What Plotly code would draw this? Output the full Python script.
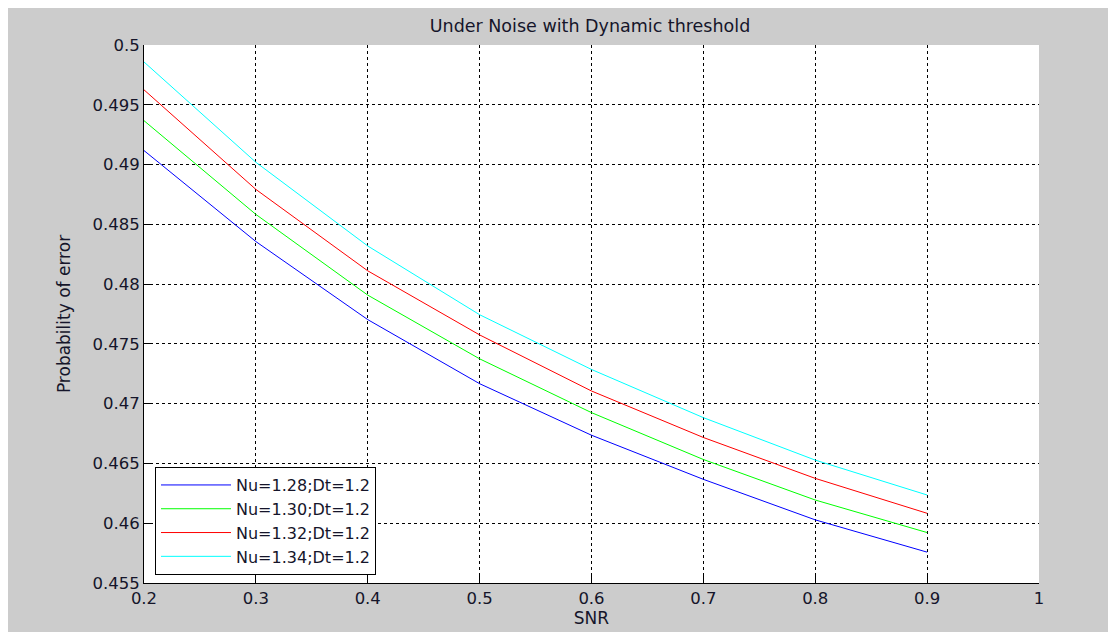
import plotly.graph_objects as go

snr = [0.2, 0.3, 0.4, 0.5, 0.6, 0.7, 0.8, 0.9]
pe_128 = [0.49117, 0.48356, 0.47703, 0.47167, 0.46736, 0.46367, 0.46028, 0.45758]
pe_130 = [0.49367, 0.48583, 0.47908, 0.47375, 0.46925, 0.46533, 0.46194, 0.45922]
pe_132 = [0.49625, 0.48792, 0.48111, 0.47575, 0.47106, 0.46717, 0.46375, 0.46083]
pe_134 = [0.49858, 0.49019, 0.48319, 0.47744, 0.47286, 0.46883, 0.46528, 0.46236]
names = ["Nu=1.28;Dt=1.2", "Nu=1.30;Dt=1.2", "Nu=1.32;Dt=1.2", "Nu=1.34;Dt=1.2"]
colors = ["#0000ff", "#00ff00", "#ff0000", "#00ffff"]
x_ticks = [0.2, 0.3, 0.4, 0.5, 0.6, 0.7, 0.8, 0.9, 1.0]
x_ticklabels = ["0.2", "0.3", "0.4", "0.5", "0.6", "0.7", "0.8", "0.9", "1"]
y_ticks = [0.455, 0.46, 0.465, 0.47, 0.475, 0.48, 0.485, 0.49, 0.495, 0.5]
y_ticklabels = ["0.455", "0.46", "0.465", "0.47", "0.475", "0.48", "0.485", "0.49", "0.495", "0.5"]

fig = go.Figure()
for ys, nm, c in zip([pe_128, pe_130, pe_132, pe_134], names, colors):
    fig.add_trace(go.Scatter(x=snr, y=ys, mode="lines", name=nm,
                             line=dict(color=c, width=1)))

font = "DejaVu Sans, Liberation Sans, Arial, sans-serif"
txt = "#15152a"

axis_common = dict(
    showline=True, linecolor="black", linewidth=1, mirror=False,
    ticks="inside", ticklen=7, tickcolor="black",
    showgrid=True, gridcolor="black", gridwidth=1, griddash="3px,3px",
    zeroline=False, tickfont=dict(family=font, size=16.5, color=txt),
)

fig.update_layout(
    width=1108, height=624,
    paper_bgcolor="#cccccc", plot_bgcolor="white",
    margin=dict(l=136, r=77, t=37, b=47),
    title=dict(text="Under Noise with Dynamic threshold", x=(590 - 8) / 1108, xanchor="center",
               y=1 - 18 / 624, yanchor="middle",
               font=dict(family=font, size=17.5, color=txt)),
    xaxis=dict(range=[0.2, 1.0], tickvals=x_ticks, ticktext=x_ticklabels,
               title=dict(text="SNR", standoff=0, font=dict(family=font, size=17, color=txt)),
               **axis_common),
    yaxis=dict(range=[0.455, 0.5], tickvals=y_ticks, ticktext=y_ticklabels,
               title=dict(text="Probability of error", standoff=17,
                          font=dict(family=font, size=17, color=txt)),
               **axis_common),
    legend=dict(x=0.0123, y=0.0148, xanchor="left", yanchor="bottom",
                bgcolor="white", bordercolor="black", borderwidth=1,
                font=dict(family=font, size=16, color=txt),
                tracegroupgap=0, itemwidth=70),
    showlegend=True,
)

fig.write_html("out.html")
